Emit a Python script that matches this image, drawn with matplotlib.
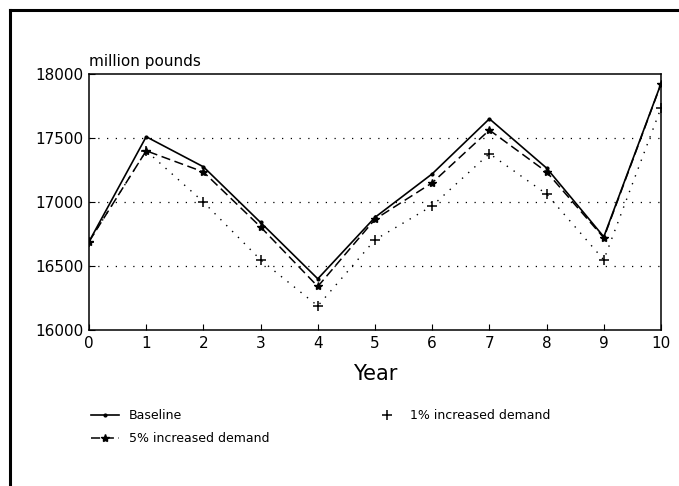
import matplotlib.pyplot as plt
import numpy as np
from matplotlib.lines import Line2D

years = np.arange(0, 11)
baseline = [16690, 17510, 17275, 16840, 16400, 16880, 17220, 17650, 17265, 16728, 17925]
demand_5pct = [16690, 17400, 17235, 16805, 16340, 16865, 17150, 17562, 17235, 16720, 17922]
demand_1pct = [16690, 17400, 17000, 16548, 16188, 16705, 16970, 17378, 17062, 16548, 17735]
yticks = [16000, 16500, 17000, 17500, 18000]

fig = plt.figure(figsize=(6.79, 4.86), dpi=100)
ax = fig.add_axes([89/679, 1 - 330/486, 572/679, 256/486])

# outer frame (left and top only)
fig.add_artist(Line2D([10/679, 10/679], [0, 1 - 10/486], transform=fig.transFigure,
                      color='black', lw=2.2))
fig.add_artist(Line2D([10/679, 1], [1 - 10/486, 1 - 10/486], transform=fig.transFigure,
                      color='black', lw=2.2))

ax.plot(years, baseline, color='black', lw=1.2, marker='.', ms=4, label='Baseline')
ax.plot(years, demand_5pct, color='black', lw=1.1, ls=(0, (6, 3)), marker='*', ms=6,
        label='5% increased demand')
ax.plot(years, demand_1pct, color='black', lw=1.0, ls=(0, (1, 5)), marker='+', ms=7,
        mew=1.1, label='1% increased demand')

for v in yticks[1:-1]:
    ax.axhline(v, color='black', lw=0.9, ls=(0, (1, 6)), zorder=0)

ax.set_xlim(0, 10)
ax.set_ylim(16000, 18000)
ax.set_xticks(years)
ax.set_yticks(yticks)
ax.tick_params(direction='in', length=4, labelsize=11, pad=4)
for s in ax.spines.values():
    s.set_linewidth(1.1)

ax.set_xlabel('Year', fontsize=15, labelpad=10)
ax.text(0, 1.02, 'million pounds', transform=ax.transAxes, fontsize=11, ha='left', va='bottom')

h, l = ax.get_legend_handles_labels()
plus_only = Line2D([], [], color='black', ls='none', marker='+', ms=7, mew=1.1)
fig.legend([h[0], h[1], plus_only], [l[0], l[1], l[2]], ncol=2, frameon=False,
           loc='upper left', bbox_to_anchor=(80/679, 1 - 398/486), fontsize=9,
           handlelength=2.2, columnspacing=8.3, labelspacing=0.8)

fig.savefig('out.png', dpi=100)
